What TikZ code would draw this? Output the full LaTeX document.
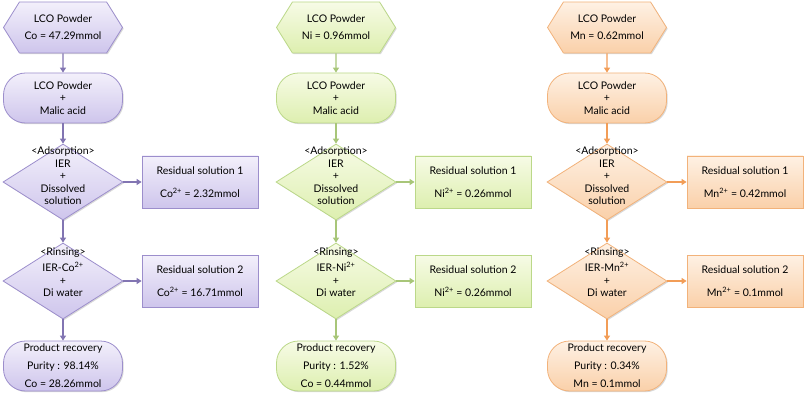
\documentclass[tikz,border=0pt]{standalone}
\usepackage{fontspec}
\setmainfont{Lato}
\usetikzlibrary{arrows.meta,shapes.geometric,shapes.symbols,shadows}

\definecolor{purTop}{HTML}{F3F0FB}
\definecolor{purBot}{HTML}{CEC5EC}
\definecolor{purLine}{HTML}{9C8ECC}
\definecolor{purArr}{HTML}{8275B2}
\definecolor{grnTop}{HTML}{F7FBE6}
\definecolor{grnBot}{HTML}{DDEFAF}
\definecolor{grnLine}{HTML}{BBD889}
\definecolor{grnArr}{HTML}{A8C679}
\definecolor{orgTop}{HTML}{FEF1E4}
\definecolor{orgBot}{HTML}{FAD0A9}
\definecolor{orgLine}{HTML}{F2B27A}
\definecolor{orgArr}{HTML}{F29D57}

\begin{document}
\begin{tikzpicture}[x=1pt,y=-1pt,
    font=\fontsize{10.5}{12.5}\selectfont,
    >={Triangle[length=5pt,width=6pt]},
    shade/.style={drop shadow={shadow xshift=1.2pt,shadow yshift=-1.2pt,opacity=.25,fill=black!60}},
    hexnode/.style={signal,signal to=west and east,signal pointer angle=116,
      minimum width=119pt,minimum height=51pt,inner sep=0pt,align=center,shade},
    mixnode/.style={rectangle,rounded corners=22pt,minimum width=119pt,minimum height=50pt,
      inner sep=0pt,align=center,shade},
    dianode/.style={diamond,minimum width=120pt,minimum height=76pt,inner sep=0pt,shade},
    resnode/.style={rectangle,minimum width=116pt,minimum height=52pt,inner sep=0pt,align=center,shade},
    txtnode/.style={align=center,inner sep=0pt}]
  \useasboundingbox (0,0) rectangle (809,401);

  % cobalt
  \begin{scope}[colfill/.style={draw=purLine,thick,top color=purTop,bottom color=purBot},
      every edge/.style={draw=purArr,line width=1.2pt}]
    \node[hexnode,colfill] (hexCo) at (63,27.5) {LCO Powder\\[4.5pt]Co = 47.29mmol};
    \node[mixnode,colfill] (mixCo) at (63,98) {LCO Powder\\+\\Malic acid};
    \node[dianode,colfill] (adsCo) at (63,182) {};
    \node[txtnode] (adsCoTxt) at (63,176) {<Adsorption>\\IER\\+\\Dissolved\\solution};
    \node[resnode,colfill] (resCoA) at (200,182) {Residual solution 1\\[10.5pt]Co\textsuperscript{2+} = 2.32mmol};
    \node[dianode,colfill] (rinCo) at (63,281) {};
    \node[txtnode] (rinCoTxt) at (63,272) {<Rinsing>\\[4pt]IER-Co\textsuperscript{2+}\\+\\Di water};
    \node[resnode,colfill] (resCoB) at (200,281) {Residual solution 2\\[10.5pt]Co\textsuperscript{2+} = 16.71mmol};
    \node[mixnode,colfill] (prodCo) at (63,366) {Product recovery\\[5.5pt]Purity : 98.14\%\\[5.5pt]Co = 28.26mmol};

    \path [->] (hexCo) edge (mixCo);
    \path [->] (mixCo) edge (adsCo);
    \path [->] (adsCo) edge (resCoA);
    \path [->] (adsCo) edge (rinCo);
    \path [->] (rinCo) edge (resCoB);
    \path [->] (rinCo) edge (prodCo);
  \end{scope}

  % nickel
  \begin{scope}[colfill/.style={draw=grnLine,thick,top color=grnTop,bottom color=grnBot},
      every edge/.style={draw=grnArr,line width=1.2pt}]
    \node[hexnode,colfill] (hexNi) at (336,27.5) {LCO Powder\\[4.5pt]Ni = 0.96mmol};
    \node[mixnode,colfill] (mixNi) at (336,98) {LCO Powder\\+\\Malic acid};
    \node[dianode,colfill] (adsNi) at (336,182) {};
    \node[txtnode] (adsNiTxt) at (336,176) {<Adsorption>\\IER\\+\\Dissolved\\solution};
    \node[resnode,colfill] (resNiA) at (473,182) {Residual solution 1\\[10.5pt]Ni\textsuperscript{2+} = 0.26mmol};
    \node[dianode,colfill] (rinNi) at (336,281) {};
    \node[txtnode] (rinNiTxt) at (336,272) {<Rinsing>\\[4pt]IER-Ni\textsuperscript{2+}\\+\\Di water};
    \node[resnode,colfill] (resNiB) at (473,281) {Residual solution 2\\[10.5pt]Ni\textsuperscript{2+} = 0.26mmol};
    \node[mixnode,colfill] (prodNi) at (336,366) {Product recovery\\[5.5pt]Purity : 1.52\%\\[5.5pt]Co = 0.44mmol};

    \path [->] (hexNi) edge (mixNi);
    \path [->] (mixNi) edge (adsNi);
    \path [->] (adsNi) edge (resNiA);
    \path [->] (adsNi) edge (rinNi);
    \path [->] (rinNi) edge (resNiB);
    \path [->] (rinNi) edge (prodNi);
  \end{scope}

  % manganese
  \begin{scope}[colfill/.style={draw=orgLine,thick,top color=orgTop,bottom color=orgBot},
      every edge/.style={draw=orgArr,line width=1.2pt}]
    \node[hexnode,colfill] (hexMn) at (607,27.5) {LCO Powder\\[4.5pt]Mn = 0.62mmol};
    \node[mixnode,colfill] (mixMn) at (607,98) {LCO Powder\\+\\Malic acid};
    \node[dianode,colfill] (adsMn) at (607,182) {};
    \node[txtnode] (adsMnTxt) at (607,176) {<Adsorption>\\IER\\+\\Dissolved\\solution};
    \node[resnode,colfill] (resMnA) at (745,182) {Residual solution 1\\[10.5pt]Mn\textsuperscript{2+} = 0.42mmol};
    \node[dianode,colfill] (rinMn) at (607,281) {};
    \node[txtnode] (rinMnTxt) at (607,272) {<Rinsing>\\[4pt]IER-Mn\textsuperscript{2+}\\+\\Di water};
    \node[resnode,colfill] (resMnB) at (745,281) {Residual solution 2\\[10.5pt]Mn\textsuperscript{2+} = 0.1mmol};
    \node[mixnode,colfill] (prodMn) at (607,366) {Product recovery\\[5.5pt]Purity : 0.34\%\\[5.5pt]Mn = 0.1mmol};

    \path [->] (hexMn) edge (mixMn);
    \path [->] (mixMn) edge (adsMn);
    \path [->] (adsMn) edge (resMnA);
    \path [->] (adsMn) edge (rinMn);
    \path [->] (rinMn) edge (resMnB);
    \path [->] (rinMn) edge (prodMn);
  \end{scope}
\end{tikzpicture}
\end{document}
